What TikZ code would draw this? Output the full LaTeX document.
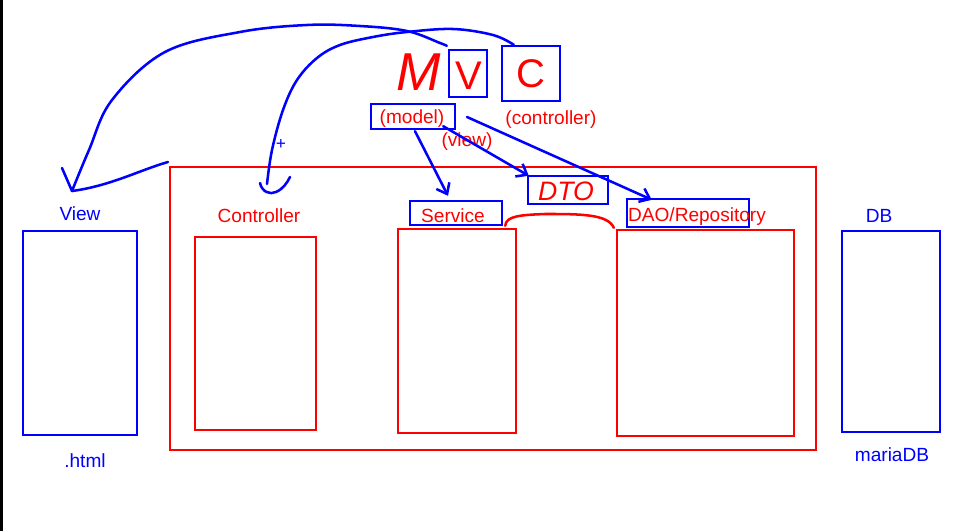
\documentclass[tikz,border=0pt]{standalone}
\usepackage{fontspec}
\setmainfont{Liberation Sans}
\usetikzlibrary{fit,arrows.meta}
\definecolor{pblue}{RGB}{0,0,255}
\definecolor{pred}{RGB}{255,0,0}
\begin{document}
\begin{tikzpicture}[x=0.75pt,y=-0.75pt,
  bbox/.style={draw=pblue, line width=1.8pt, inner sep=0pt},
  rbox/.style={draw=pred, line width=1.8pt, inner sep=0pt},
  rtxt/.style={text=pred, font=\fontsize{14.3}{17}\selectfont, inner sep=0pt},
  btxt/.style={text=pblue, font=\fontsize{14.3}{17}\selectfont, inner sep=0pt},
  hand/.style={text=pred, inner sep=0pt},
  ink/.style={draw=pblue, line width=1.9pt, line cap=round, line join=round},
  rink/.style={draw=pred, line width=1.9pt, line cap=round, line join=round},
  arr/.style={ink, -{Straight Barb[length=7pt,width=11pt]}}
]
\useasboundingbox (0,0) rectangle (957,531);
\fill[white] (0,0) rectangle (957,531);
\fill[black] (0,0) rectangle (3,531);

% outer red frame
\node[rbox, fit={(170,167) (816,450)}] (frame) {};

% View
\node[btxt] (viewlbl) at (80,214) {View};
\node[bbox, fit={(23,231) (137,435)}] (view) {};
\node[btxt] (html) at (85,461) {.html};

% Controller
\node[rtxt] (ctrllbl) at (259,216) {Controller};
\node[rbox, fit={(195,237) (316,430)}] (ctrl) {};

% Service
\node[bbox, fit={(410,201) (502,225)}] (service) {};
\node[rtxt] (servicelbl) at (453,215.5) {Service};
\node[rbox, fit={(398,229) (516,433)}] (servicebox) {};

% DTO
\node[bbox, fit={(528,176) (608,204)}] (dto) {};
\node[hand, font=\fontsize{20}{20}\selectfont\itshape] (dtolbl) at (566,191) {DTO};

% DAO
\node[bbox, fit={(627,199) (749,227)}] (dao) {};
\node[rtxt] (daolbl) at (697,216.5) {DAO/Repository};
\node[rbox, fit={(617,230) (794,436)}] (daobox) {};

% DB
\node[btxt] (dblbl) at (879,216) {DB};
\node[bbox, fit={(842,231) (940,432)}] (db) {};
\node[btxt] (maria) at (892,455) {mariaDB};

% MVC
\node[hand, font=\fontsize{40}{40}\selectfont\itshape] (mletter) at (419,72) {M};
\node[bbox, fit={(449,50) (487,97)}] (vbox) {};
\node[hand, font=\fontsize{30}{30}\selectfont] (vletter) at (469,76) {V};
\node[bbox, fit={(502,46) (560,101)}] (cbox) {};
\node[hand, font=\fontsize{30}{30}\selectfont] (cletter) at (531,74) {C};

\node[bbox, fit={(371,104) (455,129)}] (model) {};
\node[rtxt] (modellbl) at (412,119) {(model)};
\node[rtxt] (controllerlbl) at (551,120) {(controller)};
\node[rtxt] (viewsmall) at (467,142) {(view)};

% arrows from model
\draw[arr] ([shift={(2,1)}]model.south) -- ([shift={(-8,-4)}]service.north);
\draw[arr] ([shift={(-13,-4)}]model.south east) -- ([shift={(2,1)}]dto.north west);
\coordinate (s3) at (467,117);
\draw[arr] (s3) -- ([shift={(26,2)}]dao.north west);

% V -> View curve
\coordinate (vtip) at (72,191);
\draw[ink] plot[smooth, tension=0.6] coordinates {([shift={(-1,-3)}]vbox.north west) (440,43) (407,31) (360,26) (307,25) (240,32) (165,52) (112,100) (89,150) (vtip)};
\draw[ink] (62,168) -- (vtip);
\draw[ink] (vtip) .. controls (110,186) and (140,170) .. (168,162);

% C -> Controller curve
\coordinate (ctip) at (267,184);
\draw[ink] plot[smooth, tension=0.6] coordinates {([shift={(13,0)}]cbox.north west) (493,35) (453,29) (407,32) (373,37) (340,45) (317,58) (297,80) (283,110) (272,150) (ctip)};
\draw[ink] (260,183) .. controls (262,192) and (270,195) .. (276,192) .. controls (283,189) and (287,183) .. (290,177);
\node[text=pblue, font=\fontsize{13}{13}\selectfont, inner sep=0pt] (plus) at (281,144) {+};

% red link Service - DAO
\draw[rink] ([shift={(-12,-2)}]servicebox.north east) .. controls (506,216) and (520,215) .. (545,214) .. controls (580,214) and (608,214) .. ([shift={(-2,-1)}]daobox.north west);
\end{tikzpicture}
\end{document}
